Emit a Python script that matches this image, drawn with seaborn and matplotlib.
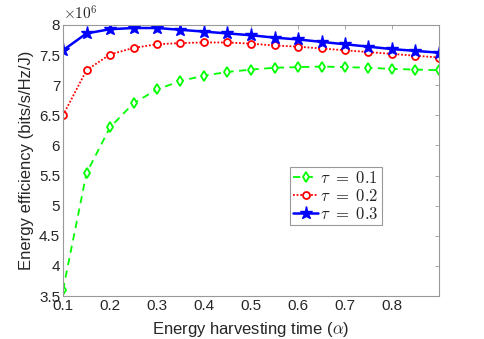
import numpy as np
import pandas as pd
import seaborn as sns
import matplotlib
matplotlib.use("Agg")
import matplotlib.pyplot as plt
from matplotlib.ticker import FuncFormatter

# harvesting time alpha
alpha = [0.10, 0.15, 0.20, 0.25, 0.30, 0.35, 0.40, 0.45, 0.50,
         0.55, 0.60, 0.65, 0.70, 0.75, 0.80, 0.85, 0.90]

# energy efficiency (x1e6)
ee_tau01 = [3.60, 5.54, 6.30, 6.70, 6.93, 7.07, 7.16, 7.22, 7.26,
            7.29, 7.30, 7.31, 7.30, 7.29, 7.27, 7.26, 7.25]
ee_tau02 = [6.50, 7.25, 7.51, 7.62, 7.68, 7.70, 7.71, 7.71, 7.69,
            7.66, 7.64, 7.61, 7.58, 7.55, 7.52, 7.49, 7.46]
ee_tau03 = [7.58, 7.86, 7.93, 7.95, 7.95, 7.92, 7.89, 7.86, 7.83,
            7.79, 7.76, 7.72, 7.68, 7.64, 7.60, 7.57, 7.54]

labels = [r'$\tau\ =\ 0.1$', r'$\tau\ =\ 0.2$', r'$\tau\ =\ 0.3$']

sns.set_style("white")
plt.rcParams['font.family'] = ['Liberation Sans', 'DejaVu Sans']
plt.rcParams['mathtext.fontset'] = 'cm'

df = pd.DataFrame({
    'alpha': alpha * 3,
    'ee': np.array(ee_tau01 + ee_tau02 + ee_tau03) * 1e6,
    'tau': [labels[0]] * len(alpha) + [labels[1]] * len(alpha) + [labels[2]] * len(alpha),
})

fig = plt.figure(figsize=(4.85, 3.39), dpi=100)
ax = fig.add_axes([63 / 485, 1 - 296 / 339, 376 / 485, 271 / 339])

styles = {
    labels[0]: dict(color='#00ff00', linestyle=(0, (4, 3)), marker='d', ms=5, mew=1.3, lw=1.3),
    labels[1]: dict(color='#ff0000', linestyle=(0, (1, 1)), marker='o', ms=5, mew=1.3, lw=1.3),
    labels[2]: dict(color='#0000ff', linestyle='-', marker='*', ms=9.5, mew=1, lw=1.8),
}
for lab in labels:
    sub = df[df['tau'] == lab]
    st = styles[lab]
    sns.lineplot(data=sub, x='alpha', y='ee', ax=ax, label=lab,
                 color=st['color'], linestyle=st['linestyle'], marker=st['marker'],
                 markersize=st['ms'], markeredgewidth=st['mew'], linewidth=st['lw'],
                 markerfacecolor='white' if st['marker'] != '*' else st['color'],
                 markeredgecolor=st['color'])

ax.set_xlim(0.1, 0.9)
ax.set_ylim(3.5e6, 8e6)
ax.set_xticks([0.1, 0.2, 0.3, 0.4, 0.5, 0.6, 0.7, 0.8])
ax.set_xticklabels(['0.1', '0.2', '0.3', '0.4', '0.5', '0.6', '0.7', '0.8'])
ax.set_yticks(np.arange(3.5e6, 8.01e6, 0.5e6))
ax.yaxis.set_major_formatter(FuncFormatter(lambda v, p: '%g' % round(v / 1e6, 2)))
ax.text(0.0, 1.008, r'$\times10^6$', transform=ax.transAxes, ha='left', va='bottom',
        fontsize=11, color='#262626', family='DejaVu Sans')

ax.set_xlabel(r'Energy harvesting time ($\alpha$)', fontsize=12, color='#262626', labelpad=5)
ax.set_ylabel('Energy efficiency (bits/s/Hz/J)', fontsize=12, color='#262626', labelpad=4)

for sp in ax.spines.values():
    sp.set_color('#999999')
    sp.set_linewidth(0.8)
ax.tick_params(direction='in', length=3, width=0.6, color='#999999',
               top=True, right=True, labelsize=11, labelcolor='#262626', pad=2)

leg = ax.legend(loc='upper left', bbox_to_anchor=(227 / 376, 1 - 142 / 271),
                fontsize=12, frameon=True, fancybox=False, framealpha=1,
                edgecolor='#999999', handlelength=1.5, handletextpad=0.1,
                borderpad=0.2, labelspacing=0.1, borderaxespad=0)
leg.get_frame().set_linewidth(0.8)

fig.savefig('out.png', dpi=100)
